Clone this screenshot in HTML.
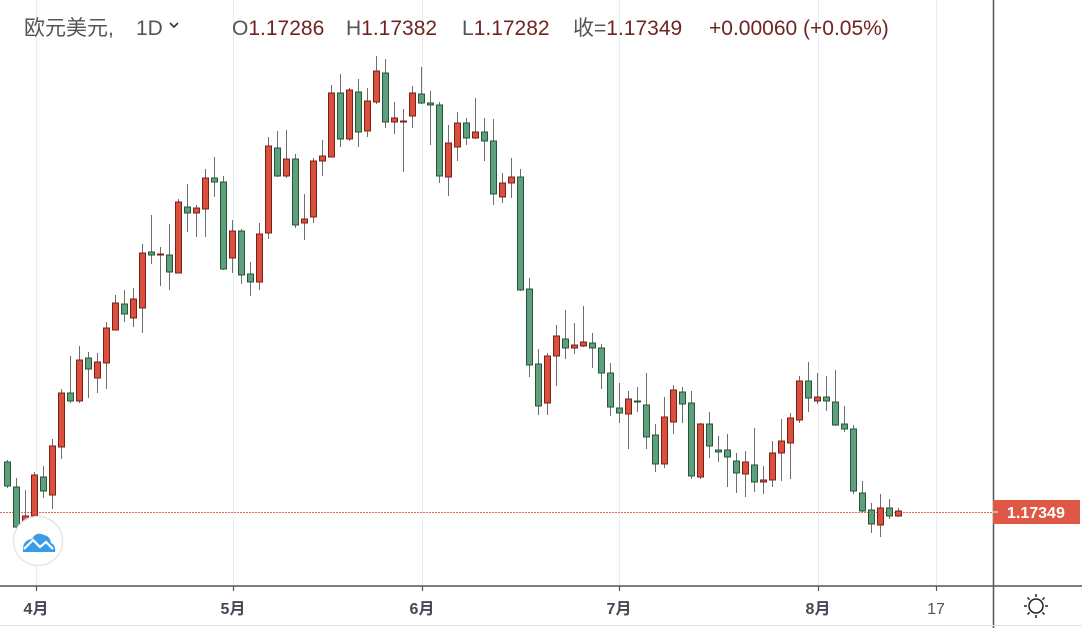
<!DOCTYPE html>
<html><head><meta charset="utf-8"><style>
body{margin:0;background:#fff;width:1082px;height:628px;overflow:hidden;font-family:"Liberation Sans","Noto Sans CJK SC",sans-serif}
.r{fill:#d9503f;stroke:#7d1f17;stroke-width:1}
.g{fill:#609f7b;stroke:#23573a;stroke-width:1}
line.w{stroke:#6e6e6e;stroke-width:1}
</style></head><body>
<svg width="1082" height="628" xmlns="http://www.w3.org/2000/svg" style="position:absolute;left:0;top:0">
<g stroke="#e6eef5" stroke-width="1">
<line x1="36.5" y1="0" x2="36.5" y2="586"/><line x1="233.5" y1="0" x2="233.5" y2="586"/><line x1="422.5" y1="0" x2="422.5" y2="586"/><line x1="619.5" y1="0" x2="619.5" y2="586"/><line x1="818.5" y1="0" x2="818.5" y2="586"/><line x1="936.5" y1="0" x2="936.5" y2="586"/>
</g>
<line x1="0" y1="512.5" x2="993" y2="512.5" stroke="#e0645a" stroke-width="1" stroke-dasharray="2,1"/>
<g>
<line class="w" x1="7.5" y1="460" x2="7.5" y2="488"/><rect class="g" x="4.5" y="462" width="6" height="24"/>
<line class="w" x1="16.5" y1="478" x2="16.5" y2="532"/><rect class="g" x="13.5" y="487" width="6" height="40"/>
<line class="w" x1="25.5" y1="490" x2="25.5" y2="530"/><rect class="r" x="22.5" y="516" width="6" height="7"/>
<line class="w" x1="34.5" y1="472" x2="34.5" y2="520"/><rect class="r" x="31.5" y="475" width="6" height="41"/>
<line class="w" x1="43.5" y1="466" x2="43.5" y2="498"/><rect class="g" x="40.5" y="477" width="6" height="14"/>
<line class="w" x1="52.5" y1="439" x2="52.5" y2="509"/><rect class="r" x="49.5" y="446" width="6" height="49"/>
<line class="w" x1="61.5" y1="389" x2="61.5" y2="459"/><rect class="r" x="58.5" y="393" width="6" height="54"/>
<line class="w" x1="70.5" y1="356" x2="70.5" y2="403"/><rect class="g" x="67.5" y="393" width="6" height="8"/>
<line class="w" x1="79.5" y1="346" x2="79.5" y2="403"/><rect class="r" x="76.5" y="360" width="6" height="41"/>
<line class="w" x1="88.5" y1="352" x2="88.5" y2="398"/><rect class="g" x="85.5" y="358" width="6" height="11"/>
<line class="w" x1="97.5" y1="353" x2="97.5" y2="393"/><rect class="r" x="94.5" y="362" width="6" height="16"/>
<line class="w" x1="106.5" y1="322" x2="106.5" y2="389"/><rect class="r" x="103.5" y="328" width="6" height="35"/>
<line class="w" x1="115.5" y1="295" x2="115.5" y2="330"/><rect class="r" x="112.5" y="303" width="6" height="27"/>
<line class="w" x1="124.5" y1="290" x2="124.5" y2="322"/><rect class="g" x="121.5" y="304" width="6" height="10"/>
<line class="w" x1="133.5" y1="288" x2="133.5" y2="327"/><rect class="r" x="130.5" y="299" width="6" height="19"/>
<line class="w" x1="142.5" y1="244" x2="142.5" y2="333"/><rect class="r" x="139.5" y="253" width="6" height="55"/>
<line class="w" x1="151.5" y1="215" x2="151.5" y2="264"/><rect class="g" x="148.5" y="252" width="6" height="3"/>
<line class="w" x1="160.5" y1="247" x2="160.5" y2="286"/><rect class="r" x="157.5" y="254" width="6" height="1"/>
<line class="w" x1="169.5" y1="224" x2="169.5" y2="290"/><rect class="g" x="166.5" y="255" width="6" height="17"/>
<line class="w" x1="178.5" y1="199" x2="178.5" y2="273"/><rect class="r" x="175.5" y="202" width="6" height="71"/>
<line class="w" x1="187.5" y1="184" x2="187.5" y2="232"/><rect class="g" x="184.5" y="207" width="6" height="6"/>
<line class="w" x1="196.5" y1="205" x2="196.5" y2="237"/><rect class="r" x="193.5" y="208" width="6" height="5"/>
<line class="w" x1="205.5" y1="169" x2="205.5" y2="237"/><rect class="r" x="202.5" y="178" width="6" height="31"/>
<line class="w" x1="214.5" y1="157" x2="214.5" y2="197"/><rect class="g" x="211.5" y="178" width="6" height="4"/>
<line class="w" x1="223.5" y1="176" x2="223.5" y2="270"/><rect class="g" x="220.5" y="182" width="6" height="87"/>
<line class="w" x1="232.5" y1="220" x2="232.5" y2="273"/><rect class="r" x="229.5" y="231" width="6" height="27"/>
<line class="w" x1="241.5" y1="229" x2="241.5" y2="284"/><rect class="g" x="238.5" y="231" width="6" height="44"/>
<line class="w" x1="250.5" y1="262" x2="250.5" y2="296"/><rect class="g" x="247.5" y="274" width="6" height="8"/>
<line class="w" x1="259.5" y1="223" x2="259.5" y2="290"/><rect class="r" x="256.5" y="234" width="6" height="48"/>
<line class="w" x1="268.5" y1="137" x2="268.5" y2="239"/><rect class="r" x="265.5" y="146" width="6" height="87"/>
<line class="w" x1="277.5" y1="131" x2="277.5" y2="177"/><rect class="g" x="274.5" y="148" width="6" height="28"/>
<line class="w" x1="286.5" y1="130" x2="286.5" y2="178"/><rect class="r" x="283.5" y="159" width="6" height="17"/>
<line class="w" x1="295.5" y1="154" x2="295.5" y2="228"/><rect class="g" x="292.5" y="159" width="6" height="66"/>
<line class="w" x1="304.5" y1="194" x2="304.5" y2="240"/><rect class="r" x="301.5" y="219" width="6" height="4"/>
<line class="w" x1="313.5" y1="158" x2="313.5" y2="223"/><rect class="r" x="310.5" y="161" width="6" height="56"/>
<line class="w" x1="322.5" y1="140" x2="322.5" y2="176"/><rect class="r" x="319.5" y="156" width="6" height="5"/>
<line class="w" x1="331.5" y1="85" x2="331.5" y2="157"/><rect class="r" x="328.5" y="93" width="6" height="64"/>
<line class="w" x1="340.5" y1="74" x2="340.5" y2="147"/><rect class="g" x="337.5" y="93" width="6" height="46"/>
<line class="w" x1="349.5" y1="88" x2="349.5" y2="141"/><rect class="r" x="346.5" y="90" width="6" height="49"/>
<line class="w" x1="358.5" y1="79" x2="358.5" y2="147"/><rect class="g" x="355.5" y="92" width="6" height="40"/>
<line class="w" x1="367.5" y1="88" x2="367.5" y2="137"/><rect class="r" x="364.5" y="101" width="6" height="30"/>
<line class="w" x1="376.5" y1="56" x2="376.5" y2="104"/><rect class="r" x="373.5" y="71" width="6" height="31"/>
<line class="w" x1="385.5" y1="59" x2="385.5" y2="128"/><rect class="g" x="382.5" y="73" width="6" height="49"/>
<line class="w" x1="394.5" y1="102" x2="394.5" y2="134"/><rect class="r" x="391.5" y="118" width="6" height="4"/>
<line class="w" x1="403.5" y1="109" x2="403.5" y2="172"/><rect class="r" x="400.5" y="121" width="6" height="1"/>
<line class="w" x1="412.5" y1="86" x2="412.5" y2="128"/><rect class="r" x="409.5" y="93" width="6" height="23"/>
<line class="w" x1="421.5" y1="67" x2="421.5" y2="104"/><rect class="g" x="418.5" y="94" width="6" height="9"/>
<line class="w" x1="430.5" y1="91" x2="430.5" y2="145"/><rect class="g" x="427.5" y="103" width="6" height="2"/>
<line class="w" x1="439.5" y1="102" x2="439.5" y2="183"/><rect class="g" x="436.5" y="105" width="6" height="71"/>
<line class="w" x1="448.5" y1="125" x2="448.5" y2="196"/><rect class="r" x="445.5" y="143" width="6" height="34"/>
<line class="w" x1="457.5" y1="112" x2="457.5" y2="161"/><rect class="r" x="454.5" y="123" width="6" height="24"/>
<line class="w" x1="466.5" y1="118" x2="466.5" y2="145"/><rect class="g" x="463.5" y="123" width="6" height="15"/>
<line class="w" x1="475.5" y1="98" x2="475.5" y2="139"/><rect class="r" x="472.5" y="132" width="6" height="6"/>
<line class="w" x1="484.5" y1="118" x2="484.5" y2="161"/><rect class="g" x="481.5" y="132" width="6" height="9"/>
<line class="w" x1="493.5" y1="119" x2="493.5" y2="205"/><rect class="g" x="490.5" y="141" width="6" height="53"/>
<line class="w" x1="502.5" y1="173" x2="502.5" y2="203"/><rect class="r" x="499.5" y="183" width="6" height="14"/>
<line class="w" x1="511.5" y1="158" x2="511.5" y2="198"/><rect class="r" x="508.5" y="177" width="6" height="6"/>
<line class="w" x1="520.5" y1="169" x2="520.5" y2="291"/><rect class="g" x="517.5" y="177" width="6" height="113"/>
<line class="w" x1="529.5" y1="278" x2="529.5" y2="377"/><rect class="g" x="526.5" y="289" width="6" height="76"/>
<line class="w" x1="538.5" y1="349" x2="538.5" y2="415"/><rect class="g" x="535.5" y="364" width="6" height="42"/>
<line class="w" x1="547.5" y1="353" x2="547.5" y2="415"/><rect class="r" x="544.5" y="356" width="6" height="47"/>
<line class="w" x1="556.5" y1="325" x2="556.5" y2="386"/><rect class="r" x="553.5" y="336" width="6" height="20"/>
<line class="w" x1="565.5" y1="310" x2="565.5" y2="359"/><rect class="g" x="562.5" y="339" width="6" height="9"/>
<line class="w" x1="574.5" y1="323" x2="574.5" y2="354"/><rect class="r" x="571.5" y="345" width="6" height="3"/>
<line class="w" x1="583.5" y1="306" x2="583.5" y2="347"/><rect class="r" x="580.5" y="342" width="6" height="4"/>
<line class="w" x1="592.5" y1="333" x2="592.5" y2="368"/><rect class="g" x="589.5" y="343" width="6" height="5"/>
<line class="w" x1="601.5" y1="344" x2="601.5" y2="389"/><rect class="g" x="598.5" y="348" width="6" height="25"/>
<line class="w" x1="610.5" y1="363" x2="610.5" y2="416"/><rect class="g" x="607.5" y="373" width="6" height="34"/>
<line class="w" x1="619.5" y1="383" x2="619.5" y2="423"/><rect class="g" x="616.5" y="408" width="6" height="5"/>
<line class="w" x1="628.5" y1="391" x2="628.5" y2="449"/><rect class="r" x="625.5" y="399" width="6" height="15"/>
<line class="w" x1="637.5" y1="387" x2="637.5" y2="412"/><rect class="g" x="634.5" y="401" width="6" height="1"/>
<line class="w" x1="646.5" y1="373" x2="646.5" y2="449"/><rect class="g" x="643.5" y="405" width="6" height="32"/>
<line class="w" x1="655.5" y1="424" x2="655.5" y2="472"/><rect class="g" x="652.5" y="435" width="6" height="29"/>
<line class="w" x1="664.5" y1="397" x2="664.5" y2="468"/><rect class="r" x="661.5" y="417" width="6" height="47"/>
<line class="w" x1="673.5" y1="385" x2="673.5" y2="434"/><rect class="r" x="670.5" y="390" width="6" height="32"/>
<line class="w" x1="682.5" y1="387" x2="682.5" y2="423"/><rect class="g" x="679.5" y="392" width="6" height="12"/>
<line class="w" x1="691.5" y1="391" x2="691.5" y2="479"/><rect class="g" x="688.5" y="403" width="6" height="73"/>
<line class="w" x1="700.5" y1="423" x2="700.5" y2="479"/><rect class="r" x="697.5" y="424" width="6" height="53"/>
<line class="w" x1="709.5" y1="412" x2="709.5" y2="458"/><rect class="g" x="706.5" y="424" width="6" height="22"/>
<line class="w" x1="718.5" y1="436" x2="718.5" y2="462"/><rect class="g" x="715.5" y="450" width="6" height="2"/>
<line class="w" x1="727.5" y1="434" x2="727.5" y2="487"/><rect class="g" x="724.5" y="450" width="6" height="7"/>
<line class="w" x1="736.5" y1="453" x2="736.5" y2="493"/><rect class="g" x="733.5" y="461" width="6" height="12"/>
<line class="w" x1="745.5" y1="451" x2="745.5" y2="497"/><rect class="r" x="742.5" y="462" width="6" height="12"/>
<line class="w" x1="754.5" y1="428" x2="754.5" y2="492"/><rect class="g" x="751.5" y="465" width="6" height="17"/>
<line class="w" x1="763.5" y1="466" x2="763.5" y2="494"/><rect class="r" x="760.5" y="480" width="6" height="2"/>
<line class="w" x1="772.5" y1="441" x2="772.5" y2="487"/><rect class="r" x="769.5" y="453" width="6" height="27"/>
<line class="w" x1="781.5" y1="419" x2="781.5" y2="481"/><rect class="r" x="778.5" y="441" width="6" height="12"/>
<line class="w" x1="790.5" y1="413" x2="790.5" y2="479"/><rect class="r" x="787.5" y="418" width="6" height="25"/>
<line class="w" x1="799.5" y1="376" x2="799.5" y2="423"/><rect class="r" x="796.5" y="381" width="6" height="39"/>
<line class="w" x1="808.5" y1="362" x2="808.5" y2="412"/><rect class="g" x="805.5" y="381" width="6" height="17"/>
<line class="w" x1="817.5" y1="373" x2="817.5" y2="404"/><rect class="r" x="814.5" y="397" width="6" height="4"/>
<line class="w" x1="826.5" y1="376" x2="826.5" y2="411"/><rect class="g" x="823.5" y="397" width="6" height="4"/>
<line class="w" x1="835.5" y1="370" x2="835.5" y2="426"/><rect class="g" x="832.5" y="402" width="6" height="23"/>
<line class="w" x1="844.5" y1="406" x2="844.5" y2="432"/><rect class="g" x="841.5" y="424" width="6" height="5"/>
<line class="w" x1="853.5" y1="425" x2="853.5" y2="494"/><rect class="g" x="850.5" y="429" width="6" height="62"/>
<line class="w" x1="862.5" y1="481" x2="862.5" y2="512"/><rect class="g" x="859.5" y="493" width="6" height="18"/>
<line class="w" x1="871.5" y1="503" x2="871.5" y2="533"/><rect class="g" x="868.5" y="510" width="6" height="14"/>
<line class="w" x1="880.5" y1="494" x2="880.5" y2="537"/><rect class="r" x="877.5" y="508" width="6" height="17"/>
<line class="w" x1="889.5" y1="499" x2="889.5" y2="519"/><rect class="g" x="886.5" y="508" width="6" height="8"/>
<line class="w" x1="898.5" y1="508" x2="898.5" y2="517"/><rect class="r" x="895.5" y="511" width="6" height="5"/>
</g>
<line x1="0" y1="586" x2="1082" y2="586" stroke="#50535e" stroke-width="1.5"/>
<line x1="993.5" y1="0" x2="993.5" y2="628" stroke="#50535e" stroke-width="1.5"/>
<line x1="0" y1="625.5" x2="1082" y2="625.5" stroke="#e0e3eb" stroke-width="1"/>
<g stroke="#50535e" stroke-width="1.2">
<line x1="36.5" y1="586" x2="36.5" y2="591"/><line x1="233.5" y1="586" x2="233.5" y2="591"/><line x1="422.5" y1="586" x2="422.5" y2="591"/><line x1="619.5" y1="586" x2="619.5" y2="591"/><line x1="818.5" y1="586" x2="818.5" y2="591"/><line x1="936.5" y1="586" x2="936.5" y2="591"/>
</g>
<g font-family="Liberation Sans, Noto Sans CJK SC, sans-serif" font-size="16" font-weight="bold" fill="#454852" text-anchor="middle">
<text x="36" y="614">4月</text><text x="233" y="614">5月</text><text x="422" y="614">6月</text><text x="619" y="614">7月</text><text x="818" y="614">8月</text>
</g>
<text x="936" y="614" font-family="Liberation Sans, sans-serif" font-size="16" fill="#50535e" text-anchor="middle">17</text>
<rect x="993" y="500" width="87" height="24" fill="#df5846"/>
<line x1="993" y1="512" x2="998" y2="512" stroke="#fff" stroke-width="1"/>
<text x="1007" y="518" font-family="Liberation Sans, sans-serif" font-size="16" font-weight="bold" fill="#fff">1.17349</text>
<g transform="translate(1036,606)" stroke="#222" stroke-width="1.5" fill="none">
<circle r="7"/>
<line x1="0" y1="-9" x2="0" y2="-12"/><line x1="0" y1="9" x2="0" y2="12"/><line x1="-9" y1="0" x2="-12" y2="0"/><line x1="9" y1="0" x2="12" y2="0"/>
<line x1="6.4" y1="6.4" x2="8.5" y2="8.5"/><line x1="-6.4" y1="6.4" x2="-8.5" y2="8.5"/><line x1="6.4" y1="-6.4" x2="8.5" y2="-8.5"/><line x1="-6.4" y1="-6.4" x2="-8.5" y2="-8.5"/>
</g>
<circle cx="38" cy="541" r="24.5" fill="#fff" stroke="#e6e6e6" stroke-width="1.5"/>
<path d="M23,552 Q22,540 32,539 Q36,531 44,535 Q50,536 51,543 Q56,545 55,552 Z" fill="#3a9ce8"/>
<path d="M24,549 L33,540 L40,547 L46,542 L53,549" stroke="#fff" stroke-width="2.2" fill="none"/>
<g font-family="Liberation Sans, Noto Sans CJK SC, sans-serif" font-size="21">
<text x="24" y="35" fill="#555">欧元美元,</text>
<text x="136" y="35" fill="#555">1D</text>
<path d="M170,23 l4,4 l4,-4" stroke="#333" stroke-width="1.6" fill="none"/>
<text y="35" fill="#6e2520"><tspan x="232" fill="#555">O</tspan>1.17286<tspan x="346" fill="#555">H</tspan>1.17382<tspan x="462" fill="#555">L</tspan>1.17282<tspan x="573" fill="#555">收=</tspan>1.17349<tspan x="709">+0.00060 (+0.05%)</tspan></text>
</g>
</svg>
</body></html>
